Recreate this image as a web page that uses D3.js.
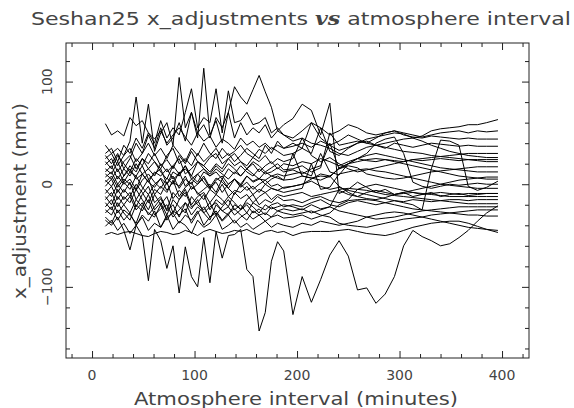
<!DOCTYPE html>
<html>
<head>
<meta charset="utf-8">
<script src="https://cdn.jsdelivr.net/npm/d3@7"></script>
<style>
  html, body { margin: 0; padding: 0; background: #fff; }
  #chart { width: 574px; height: 408px; }
  text { font-family: "DejaVu Sans", sans-serif; fill: #444; }
</style>
</head>
<body>
<div id="chart"></div>
<script>
// atmosphere interval sample times (minutes)
const minutes = [
  13, 19, 25, 31, 37, 43, 49, 55, 61, 67, 73, 79, 85, 91, 97, 103, 109, 115, 121, 127,
  133, 139, 145, 151, 157, 163, 169, 175, 181, 187,
  196, 205, 214, 223, 232, 241, 250, 259, 268, 277, 286, 295, 304, 313, 322, 331, 340, 349,
  358, 367, 376, 385, 396
];

// x_adjustment (mm), one row per series
const xAdjustments = [
  [59,48,52,47,65,57,62,50,44,52,40,48,55,46,38,50,42,47,36,44,40,34,45,38,42,36,40,34,38,35,
   37,40,36,42,38,33,36,40,44,46,48,50,49,45,42,38,35,32,30,28,27,26,26],
  [38,30,35,28,42,85,40,78,32,50,60,38,104,55,70,45,113,48,62,40,70,45,60,48,55,50,58,45,52,48,
   42,45,40,38,35,30,28,32,36,38,40,42,44,45,47,52,54,55,56,58,58,60,63],
  [30,35,22,38,30,45,35,50,40,62,45,55,48,70,93,55,65,60,93,50,91,60,62,70,58,60,65,50,55,48,
   45,52,60,55,48,52,58,55,50,48,50,52,50,48,46,48,50,51,52,50,52,51,52],
  [28,20,30,15,25,40,30,48,35,55,38,45,60,42,70,50,58,45,65,55,70,95,85,78,92,106,90,75,52,58,
   64,78,72,48,79,-9,-5,2,-3,-8,-5,-10,-8,-12,-10,-8,-12,-10,-9,-11,-10,-9,-9],
  [25,30,18,28,35,22,30,40,28,35,25,38,30,22,35,28,40,30,25,35,28,32,38,30,26,34,30,36,32,28,
   30,35,60,45,38,42,48,44,40,45,50,52,48,46,45,47,46,45,44,45,44,44,44],
  [22,15,28,20,12,25,18,30,22,15,28,35,20,25,18,30,22,28,35,25,30,22,28,35,30,25,38,30,42,35,
   40,35,30,55,32,28,35,40,42,38,35,40,38,36,38,40,39,38,37,38,37,37,37],
  [19,25,12,22,28,15,25,20,30,18,24,15,28,20,32,22,18,26,30,20,25,30,22,18,26,22,28,20,25,22,
   25,45,28,22,26,20,15,12,14,16,18,20,22,24,25,26,27,28,29,30,30,30,30],
  [15,10,22,8,18,12,25,15,8,20,12,18,25,10,15,22,18,12,20,15,25,18,22,15,20,12,18,22,15,20,
   18,22,20,25,22,18,22,25,23,22,24,23,22,24,23,24,25,24,23,24,24,24,24],
  [12,18,5,15,8,20,10,15,22,12,5,18,10,15,8,22,15,10,18,12,20,15,8,15,22,18,12,16,20,14,
   15,18,12,16,50,38,40,42,40,38,36,34,32,31,30,28,27,26,25,24,23,22,22],
  [10,5,15,2,12,8,18,5,10,15,0,12,8,18,5,10,15,8,12,5,15,10,18,12,8,15,10,12,16,12,
   14,10,15,18,40,15,18,16,10,8,6,5,6,8,10,12,13,14,15,16,17,17,17],
  [7,12,0,8,15,5,10,2,12,8,15,5,10,18,8,2,12,8,15,10,5,12,8,15,10,5,12,8,10,8,
   10,12,8,30,12,9,20,25,28,30,28,26,24,22,20,18,16,15,14,13,12,12,12],
  [4,-2,8,0,5,-5,10,2,-3,6,0,8,-4,5,0,10,2,-5,4,8,0,5,-2,8,3,6,0,5,8,4,
   5,8,6,4,8,-2,-8,-12,-14,-15,-13,-10,-8,-6,-4,-2,0,2,4,5,6,7,7],
  [2,8,-3,5,0,-6,4,10,2,-4,6,0,12,-2,5,0,8,-3,6,2,-4,5,0,8,2,5,4,8,6,4,
   30,8,6,8,7,16,20,22,24,25,24,22,20,18,16,14,12,10,8,7,6,5,5],
  [-2,5,-8,2,-5,8,-3,-10,0,5,-6,2,-2,8,-5,0,6,-4,2,-8,0,5,-3,2,-5,0,4,-2,0,-4,
   -2,0,3,-2,-5,-3,-6,-8,-10,-12,-14,-16,-18,-20,-25,15,43,42,38,-2,-6,-3,3],
  [-5,-12,0,-8,2,-15,-5,5,-10,-2,-8,4,-12,-3,2,-10,-5,0,-8,5,-4,-10,0,-6,-2,-8,0,-4,-6,-3,
   -2,0,5,10,8,15,20,25,30,40,44,46,30,2,-2,-4,-2,0,-1,0,1,0,0],
  [-9,-2,-15,-5,-12,0,-8,-18,-5,-10,2,-14,-6,-12,-2,-8,-15,-5,-10,0,-12,-6,-8,-2,-10,-5,-8,-4,-6,-8,
   -6,-4,20,-5,-3,10,12,14,15,13,12,10,8,6,4,2,0,-1,-2,-3,-4,-4,-4],
  [-12,-20,-5,-15,-8,-22,-10,-2,-18,-12,-25,-8,-15,-5,-20,-12,-8,-18,-10,-15,-22,-8,-14,-10,-18,-12,-8,-15,-10,-12,
   -10,-8,-12,-10,-8,-6,-10,-12,-8,-6,-8,-10,-9,-8,-10,-9,-8,-9,-10,-9,-9,-9,-9],
  [-15,-8,-22,-12,-18,-5,-15,-25,-10,-20,-12,-28,-15,-8,-22,-18,-10,-25,-15,-20,-12,-18,-25,-15,-10,-20,-15,-18,-12,-16,
   -15,-18,-14,-12,-16,-18,-15,-5,-2,0,-2,-4,-6,-8,-9,-10,-11,-12,-12,-12,-12,-12,-12],
  [-18,-25,-12,-20,-28,-15,-22,-10,-25,-18,-30,-15,-22,-28,-12,-20,-25,-18,-30,-22,-15,-25,-20,-28,-18,-22,-25,-20,-18,-22,
   -20,-22,-18,-15,-20,-22,-18,-16,-18,-20,-18,-16,-17,-15,-16,-17,-16,-15,-15,-16,-15,-15,-15],
  [-22,-15,-28,-20,-12,-25,-18,-30,-22,-14,-26,-20,-32,-18,-24,-15,-28,-22,-18,-26,-30,-20,-24,-18,-22,-28,-20,-24,-22,-20,
   -22,-25,-20,-24,-22,-5,-4,-5,-6,-8,-10,-11,-12,-13,-14,-15,-16,-17,-18,-19,-19,-19,-19],
  [-25,-30,-18,-28,-35,-20,-26,-15,-30,-24,-20,-32,-25,-18,-30,-22,-28,-35,-20,-26,-22,-30,-25,-20,-28,-24,-30,-22,-26,-24,
   -26,-24,-28,-25,-22,-26,-28,-30,-32,-34,-33,-32,-30,-28,-26,-25,-24,-23,-22,-22,-22,-22,-22],
  [-28,-22,-35,-25,-30,-38,-22,-28,-32,-20,-35,-26,-30,-24,-38,-28,-22,-32,-26,-35,-28,-24,-30,-35,-26,-30,-28,-32,-26,-28,
   -30,-28,-26,-30,-32,-38,-40,-41,-42,-40,-38,-36,-34,-33,-32,-30,-29,-28,-27,-26,-25,-25,-25],
  [-32,-38,-25,-35,-28,-40,-30,-36,-26,-42,-32,-28,-38,-30,-35,-26,-40,-32,-28,-36,-30,-38,-32,-28,-34,-30,-36,-32,-30,-33,
   -32,-30,-34,-31,-28,-20,-16,-15,-15,-16,-18,-20,-22,-24,-25,-26,-27,-28,-29,-30,-30,-31,-31],
  [-35,-40,-32,-45,-64,-40,-50,-94,-44,-55,-82,-60,-106,-61,-90,-100,-52,-96,-46,-72,-50,-49,-44,-83,-90,-143,-125,-75,-56,-65,
   -127,-90,-115,-93,-69,-55,-70,-103,-101,-116,-107,-90,-60,-45,-51,-55,-60,-58,-52,-45,-36,-28,-21],
  [-41,-35,-45,-38,-48,-40,-32,-45,-38,-42,-30,-44,-36,-40,-48,-35,-42,-38,-30,-44,-40,-35,-42,-38,-44,-40,-36,-42,-38,-40,
   -42,-38,-40,-36,-38,-40,-38,-36,-32,-30,-28,-27,-28,-30,-32,-34,-36,-38,-40,-42,-43,-44,-45],
  [-49,-47,-49,-47,-46,-48,-50,-51,-48,-46,-47,-49,-48,-45,-47,-50,-46,-44,-46,-48,-47,-45,-46,-44,-47,-49,-46,-45,-47,-46,
   -50,-47,-46,-46,-46,-45,-44,-46,-48,-49,-50,-48,-45,-42,-40,-38,-37,-36,-36,-38,-41,-44,-47]
];

const xMajor = [0, 100, 200, 300, 400];
const yMajor = [-100, 0, 100];

const W = 574, H = 408;
const box = { left: 66, right: 529, top: 43, bottom: 358 };

const svg = d3.select("#chart").append("svg")
  .attr("width", W).attr("height", H)
  .attr("viewBox", `0 0 ${W} ${H}`);

const x = d3.scaleLinear().domain([-25.4, 426.3]).range([box.left, box.right]);
const y = d3.scaleLinear().domain([-169.3, 137.6]).range([box.bottom, box.top]);

const line = d3.line()
  .x((d, i) => x(minutes[i]))
  .y(d => y(d));

svg.append("g")
  .selectAll("path")
  .data(xAdjustments)
  .join("path")
  .attr("d", line)
  .attr("fill", "none")
  .attr("stroke", "#000")
  .attr("stroke-width", 1)
  .attr("stroke-linejoin", "round");

// frame + inward ticks on all four sides
const xMinor = d3.range(-20, 421, 20).filter(v => v % 100 !== 0);
const yMinor = d3.range(-160, 131, 20).filter(v => v % 100 !== 0);

function ticks(axisFn, scale, pos, major, minor) {
  const g = svg.append("g").attr("transform", pos);
  g.call(axisFn(scale).tickValues(major).tickSize(-7).tickFormat(""));
  const g2 = svg.append("g").attr("transform", pos);
  g2.call(axisFn(scale).tickValues(minor).tickSize(-4).tickFormat(""));
  [g, g2].forEach(s => {
    s.select(".domain").remove();
    s.selectAll("line").attr("stroke", "#222");
  });
}
ticks(d3.axisBottom, x, `translate(0,${box.bottom})`, xMajor, xMinor);
ticks(d3.axisTop, x, `translate(0,${box.top})`, xMajor, xMinor);
ticks(d3.axisLeft, y, `translate(${box.left},0)`, yMajor, yMinor);
ticks(d3.axisRight, y, `translate(${box.right},0)`, yMajor, yMinor);

svg.append("rect")
  .attr("x", box.left).attr("y", box.top)
  .attr("width", box.right - box.left).attr("height", box.bottom - box.top)
  .attr("fill", "none").attr("stroke", "#222").attr("stroke-width", 1);

const fmt = v => v < 0 ? "\u2212" + Math.abs(v) : String(v);

svg.append("g").selectAll("text")
  .data(xMajor)
  .join("text")
  .attr("x", d => x(d)).attr("y", 380)
  .attr("text-anchor", "middle")
  .style("font-size", "14px")
  .text(fmt);

svg.append("g").selectAll("text")
  .data(yMajor)
  .join("text")
  .attr("transform", d => `translate(52,${y(d)}) rotate(-90)`)
  .attr("text-anchor", "middle")
  .style("font-size", "14px")
  .text(fmt);

svg.append("text")
  .attr("x", 296).attr("y", 405)
  .attr("text-anchor", "middle")
  .attr("textLength", 324).attr("lengthAdjust", "spacingAndGlyphs")
  .style("font-size", "18px")
  .text("Atmosphere interval (minutes)");

svg.append("text")
  .attr("transform", `translate(26,201) rotate(-90)`)
  .attr("text-anchor", "middle")
  .attr("textLength", 196).attr("lengthAdjust", "spacingAndGlyphs")
  .style("font-size", "18px")
  .text("x_adjustment (mm)");

const title = svg.append("text")
  .attr("x", 301).attr("y", 25)
  .attr("text-anchor", "middle")
  .attr("textLength", 540).attr("lengthAdjust", "spacingAndGlyphs")
  .style("font-size", "18px");
title.append("tspan").text("Seshan25 x_adjustments ");
title.append("tspan")
  .style("font-family", "'DejaVu Serif', serif")
  .style("font-style", "italic").style("font-weight", "bold")
  .text("vs");
title.append("tspan").text(" atmosphere interval");
</script>
</body>
</html>
